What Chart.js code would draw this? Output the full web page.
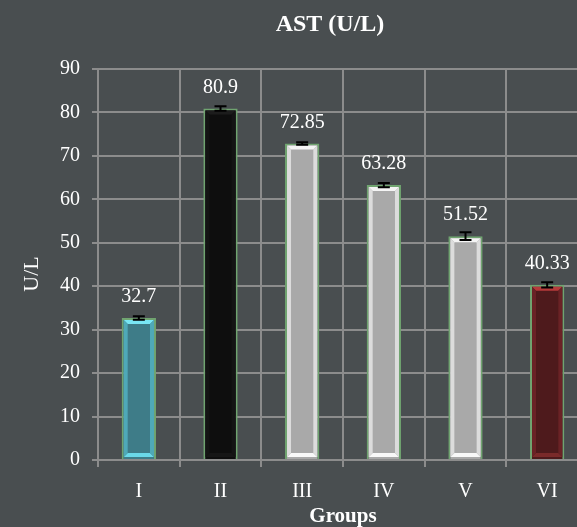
<!DOCTYPE html>
<html>
<head>
<meta charset="utf-8">
<title>AST (U/L)</title>
<script src="https://cdn.jsdelivr.net/npm/chart.js@4"></script>
<style>
  html, body { margin: 0; padding: 0; background: #494e50; overflow: hidden; }
  #wrap { width: 658px; height: 527px; }
</style>
</head>
<body>
<div id="wrap"><canvas id="astChart" width="658" height="527"></canvas></div>
<script>
// AST per group, mean and error
const groups = ['I', 'II', 'III', 'IV', 'V', 'VI'];
const astMeans = [32.7, 80.9, 72.85, 63.28, 51.52, 40.33];
const astErrors = [0.4, 0.5, 0.3, 0.5, 0.9, 0.6];
const yTickStep = 10;
const yMax = 90;
const chartTitle = 'AST (U/L)';
const yAxisTitle = 'U/L';

// bar look: face colour plus bevel bands (top, sides, bottom)
const faceColors  = ['#3e7c88', '#0e0e0e', '#a9a9a9', '#a9a9a9', '#a9a9a9', '#4e1a1c'];
const topColors   = ['#78e6f4', '#1c1c1c', '#f4f4f4', '#f4f4f4', '#f4f4f4', '#b63a3a'];
const sideColors  = ['#4fa9b8', '#141414', '#dcdcdc', '#dcdcdc', '#dcdcdc', '#6a2226'];
const bottomColors = ['#6ad8e8', '#161616', '#f8f8f8', '#f8f8f8', '#f8f8f8', '#7a2a2a'];

const serif = '"Liberation Serif", "DejaVu Serif", serif';

// background, chart title and rotated y title
const bgPlugin = {
  id: 'bg',
  beforeDraw(chart) {
    const ctx = chart.ctx;
    ctx.save();
    ctx.fillStyle = '#494e50';
    ctx.fillRect(0, 0, chart.width, chart.height);
    ctx.fillStyle = '#ffffff';
    ctx.textAlign = 'center';
    ctx.textBaseline = 'middle';
    ctx.font = 'bold 24px ' + serif;
    ctx.fillText(chartTitle, 330, 25);
    ctx.translate(32, 274);
    ctx.rotate(-Math.PI / 2);
    ctx.font = '22px ' + serif;
    ctx.fillText(yAxisTitle, 0, 0);
    ctx.restore();
  }
};

// bevel bands, error bars and value labels on top of each bar
const barExtras = {
  id: 'barExtras',
  afterDatasetsDraw(chart) {
    const ctx = chart.ctx;
    const yScale = chart.scales.y;
    const meta = chart.getDatasetMeta(0);
    meta.data.forEach((bar, i) => {
      const { x, y, base, width } = bar.getProps(['x', 'y', 'base', 'width'], true);
      const inset = 2, t = 4;
      const l = x - width / 2 + inset, r = x + width / 2 - inset;
      const top = y + inset, bot = base - inset;
      ctx.save();
      const quad = (pts, c) => {
        ctx.fillStyle = c;
        ctx.beginPath();
        ctx.moveTo(pts[0][0], pts[0][1]);
        for (let k = 1; k < pts.length; k++) ctx.lineTo(pts[k][0], pts[k][1]);
        ctx.closePath();
        ctx.fill();
      };
      quad([[l, top], [r, top], [r - t, top + t], [l + t, top + t]], topColors[i]);
      quad([[l, bot], [r, bot], [r - t, bot - t], [l + t, bot - t]], bottomColors[i]);
      quad([[l, top], [l + t, top + t], [l + t, bot - t], [l, bot]], sideColors[i]);
      quad([[r, top], [r - t, top + t], [r - t, bot - t], [r, bot]], sideColors[i]);
      ctx.restore();

      // error bar
      const yHi = yScale.getPixelForValue(astMeans[i] + astErrors[i]);
      const yLo = yScale.getPixelForValue(astMeans[i] - astErrors[i]);
      ctx.save();
      ctx.strokeStyle = '#000';
      ctx.lineWidth = 2;
      ctx.beginPath();
      ctx.moveTo(x, yHi); ctx.lineTo(x, yLo);
      ctx.moveTo(x - 6, yHi); ctx.lineTo(x + 6, yHi);
      ctx.moveTo(x - 6, yLo); ctx.lineTo(x + 6, yLo);
      ctx.stroke();
      ctx.restore();

      // value label
      ctx.save();
      ctx.fillStyle = '#ffffff';
      ctx.font = '20px ' + serif;
      ctx.textAlign = 'center';
      ctx.textBaseline = 'middle';
      ctx.fillText(String(astMeans[i]), x, y - 21);
      ctx.restore();
    });
  }
};

new Chart(document.getElementById('astChart'), {
  type: 'bar',
  data: {
    labels: groups,
    datasets: [{
      data: astMeans,
      backgroundColor: faceColors,
      borderColor: '#70a470',
      borderWidth: 2,
      barPercentage: 0.42,
      categoryPercentage: 1
    }]
  },
  options: {
    responsive: false,
    animation: false,
    layout: { padding: { left: 0, right: 70, top: 69, bottom: 0 } },
    plugins: {
      legend: { display: false },
      tooltip: { enabled: false },
      title: { display: false }
    },
    scales: {
      x: {
        grid: { color: '#8c8c8c', lineWidth: 2, tickLength: 7, offset: true },
        border: { color: '#8c8c8c', width: 2 },
        ticks: { color: '#ffffff', font: { family: serif, size: 20 }, padding: 13 },
        title: {
          display: true,
          text: 'Groups',
          color: '#ffffff',
          font: { family: serif, size: 21, weight: 'bold', lineHeight: 1 },
          padding: { top: 0, bottom: 0 }
        },
        afterFit(s) { s.height = 67; }
      },
      y: {
        min: 0,
        max: yMax,
        grid: { color: '#8c8c8c', lineWidth: 2, tickLength: 6 },
        border: { color: '#8c8c8c', width: 2 },
        ticks: { stepSize: yTickStep, color: '#ffffff', font: { family: serif, size: 20 }, padding: 12 },
        afterFit(s) { s.width = 98; }
      }
    }
  },
  plugins: [bgPlugin, barExtras]
});
</script>
</body>
</html>
